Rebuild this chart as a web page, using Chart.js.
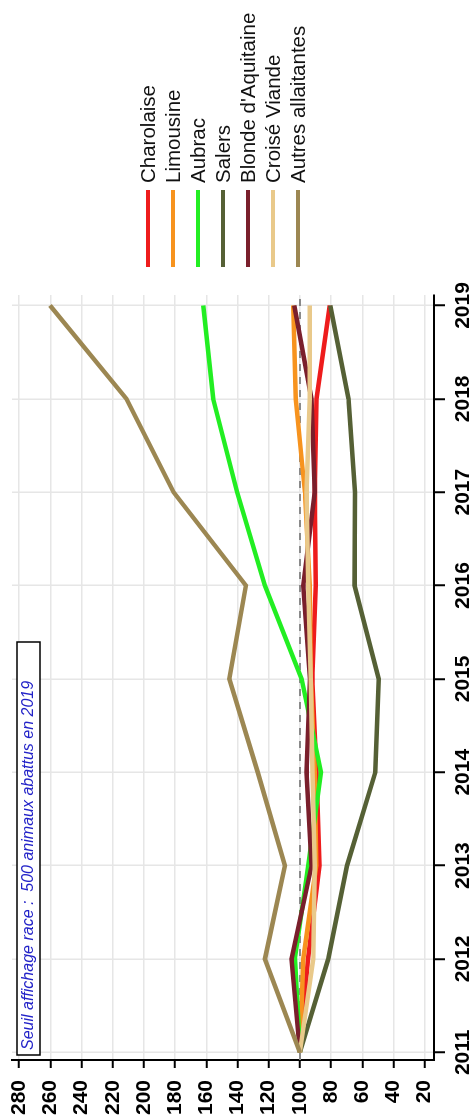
<!DOCTYPE html>
<html>
<head>
<meta charset="utf-8">
<script src="https://cdn.jsdelivr.net/npm/chart.js@4.4.0/dist/chart.umd.min.js"></script>
<style>
  html, body { margin: 0; padding: 0; background: #fff; overflow: hidden; }
  /* the chart is laid out landscape and turned a quarter to the left */
  #wrap {
    position: absolute; left: 0; top: 0;
    width: 1118px; height: 476px;
    transform-origin: 0 0;
    transform: translate(0, 1118px) rotate(-90deg);
  }
  canvas { display: block; }
</style>
</head>
<body>
<div id="wrap"><canvas id="chart" width="1118" height="476"></canvas></div>
<script>
// index base 100 in 2011
const years = [2011, 2012, 2013, 2014, 2015, 2016, 2017, 2018, 2019];
const seriesNames = ['Charolaise', 'Limousine', 'Aubrac', 'Salers', "Blonde d'Aquitaine", 'Croisé Viande', 'Autres allaitantes'];

const charolaise = [100, 94.8, 87.5, 89.3, 92, 89.8, 90.4, 89.3, 80.8];
const limousine  = [100, 97.9, 89.5, 90.4, 93, 93.6, 96.8, 102.6, 104.3];
const aubrac     = [100, 103.2, 94.7, 86.5, 98.9, 122.4, 140.2, 155.6, 162];
const salers     = [100, 81.8, 69.8, 51.6, 49.4, 65, 64.7, 68.8, 80.5];
const blonde     = [100, 105.3, 92.5, 95.7, 93.5, 97.9, 90.4, 92.5, 103.6];
const croise     = [100, 91.5, 90.5, 91.9, 93, 94.7, 95.7, 93.6, 93.6];
const autres     = [100, 122.4, 109.6, 127, 145.3, 134.6, 181, 211.2, 260.3];

const valueTicks = [20, 40, 60, 80, 100, 120, 140, 160, 180, 200, 220, 240, 260, 280];
const threshold = 100;
const noteText = 'Seuil affichage race :  500 animaux abattus en 2019';

const seriesValues = [charolaise, limousine, aubrac, salers, blonde, croise, autres];
const seriesColors = ['#ee1c1c', '#f7931e', '#22ee22', '#556035', '#7a1f2c', '#e9c98a', '#9c8752'];

const FONT = '"Liberation Sans", Arial, sans-serif';

const datasets = seriesNames.map((name, i) => ({
  label: name,
  data: years.map((yr, k) => ({ x: yr, y: seriesValues[i][k] })),
  borderColor: seriesColors[i],
  backgroundColor: seriesColors[i],
  borderWidth: 4.5,
  pointRadius: 0,
  fill: false,
  tension: 0,
  order: 10 - i
}));

// reference line, note box and legend
const extras = {
  id: 'extras',
  beforeDatasetsDraw(chart) {
    const { ctx, chartArea, scales } = chart;
    const y = scales.y.getPixelForValue(threshold);
    ctx.save();
    ctx.strokeStyle = '#8a8a8a';
    ctx.lineWidth = 2;
    ctx.setLineDash([7, 6]);
    ctx.beginPath();
    ctx.moveTo(chartArea.left, y);
    ctx.lineTo(chartArea.right, y);
    ctx.stroke();
    ctx.restore();
  },
  afterDraw(chart) {
    const { ctx, chartArea } = chart;
    ctx.save();

    const bx = chartArea.left + 5, by = chartArea.top + 5;
    ctx.fillStyle = '#fff';
    ctx.fillRect(bx, by, 413, 23);
    ctx.strokeStyle = '#000';
    ctx.lineWidth = 1.5;
    ctx.strokeRect(bx, by, 413, 23);
    ctx.fillStyle = '#2323c8';
    ctx.font = 'italic 16px ' + FONT;
    ctx.textBaseline = 'middle';
    ctx.fillText(noteText, bx + 5, by + 12);

    ctx.font = '20.5px ' + FONT;
    ctx.textBaseline = 'alphabetic';
    chart.data.datasets.forEach((ds, i) => {
      const y = chartArea.top + 136 + 25 * i;
      ctx.strokeStyle = ds.borderColor;
      ctx.lineWidth = 4;
      ctx.beginPath();
      ctx.moveTo(chartArea.right + 28, y);
      ctx.lineTo(chartArea.right + 105, y);
      ctx.stroke();
      ctx.fillStyle = '#111';
      ctx.fillText(ds.label, chartArea.right + 112, y + 7);
    });
    ctx.restore();
  }
};

const tickFont = { family: FONT, size: 21, weight: 'bold' };

new Chart(document.getElementById('chart'), {
  type: 'line',
  data: { datasets },
  options: {
    responsive: false,
    animation: false,
    devicePixelRatio: 1,
    layout: { padding: { left: 3, right: 295, top: 12, bottom: 0 } },
    plugins: {
      legend: { display: false },
      tooltip: { enabled: false }
    },
    scales: {
      x: {
        type: 'linear',
        min: 2010.918,
        max: 2019.112,
        afterBuildTicks: s => { s.ticks = years.map(v => ({ value: v })); },
        afterFit: s => { s.height = 42; s.paddingLeft = 0; s.paddingRight = 0; },
        ticks: { font: tickFont, color: '#000', padding: 6, maxRotation: 0, callback: v => String(v) },
        grid: { color: '#e6e6e6', lineWidth: 1.5, tickColor: '#000', tickLength: 11, tickWidth: 2 },
        border: { color: '#000', width: 2 }
      },
      y: {
        type: 'linear',
        min: 14,
        max: 284.6,
        afterBuildTicks: s => { s.ticks = valueTicks.map(v => ({ value: v })); },
        afterFit: s => { s.width = 55; s.paddingTop = 0; s.paddingBottom = 0; },
        ticks: { font: tickFont, color: '#000', padding: 12, callback: v => String(v) },
        grid: { color: '#e6e6e6', lineWidth: 1.5, tickColor: '#000', tickLength: 8, tickWidth: 2 },
        border: { color: '#000', width: 2 }
      }
    }
  },
  plugins: [extras]
});
</script>
</body>
</html>
